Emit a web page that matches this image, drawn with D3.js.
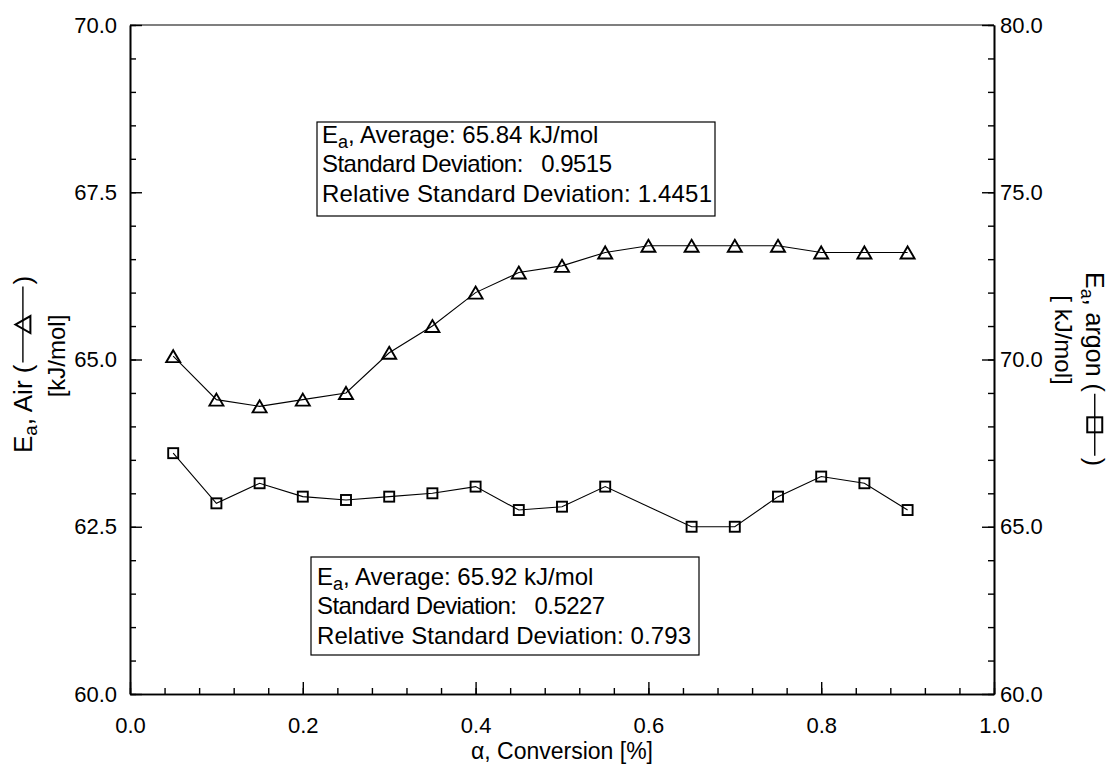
<!DOCTYPE html>
<html><head><meta charset="utf-8">
<script src="https://cdn.jsdelivr.net/npm/d3@7"></script>
<style>
body{margin:0;background:#fff}
text{font-family:"Liberation Sans",Arial,Helvetica,sans-serif;fill:#000}
</style>
</head><body>
<svg id="chart" width="1110" height="767"></svg>
<script>
// ---- data ----
const airConversion = [0.05,0.10,0.15,0.20,0.25,0.30,0.35,0.40,0.45,0.50,0.55,0.60,0.65,0.70,0.75,0.80,0.85,0.90];
const airEa = [65.05,64.4,64.3,64.4,64.5,65.1,65.5,66.0,66.3,66.4,66.6,66.7,66.7,66.7,66.7,66.6,66.6,66.6];
const argonConversion = [0.05,0.10,0.15,0.20,0.25,0.30,0.35,0.40,0.45,0.50,0.55,0.65,0.70,0.75,0.80,0.85,0.90];
const argonEa = [67.2,65.7,66.3,65.9,65.8,65.9,66.0,66.2,65.5,65.6,66.2,65.0,65.0,65.9,66.5,66.3,65.5];
const xTicks = [0.0,0.2,0.4,0.6,0.8,1.0];
const leftTicks = [60.0,62.5,65.0,67.5,70.0];
const rightTicks = [60.0,65.0,70.0,75.0,80.0];
const airStats = ["Average: 65.84 kJ/mol","Standard Deviation:   0.9515","Relative Standard Deviation: 1.4451"];
const argonStats = ["Average: 65.92 kJ/mol","Standard Deviation:   0.5227","Relative Standard Deviation: 0.793"];

const svg = d3.select("#chart");
const L = 130, R = 994, T = 25, B = 694;
const x = d3.scaleLinear().domain([0,1]).range([L,R]);
const yL = d3.scaleLinear().domain([60,70]).range([B,T]);
const yR = d3.scaleLinear().domain([60,80]).range([B,T]);
const f1 = d3.format(".1f");

function styleAxis(g, fs){
  g.selectAll("path.domain").attr("stroke","#000").attr("stroke-width",1.6);
  g.selectAll(".tick line").attr("stroke","#000").attr("stroke-width",1.4);
  g.selectAll("text").attr("font-size",fs).attr("fill","#000").attr("font-family",'"Liberation Sans",Arial,sans-serif');
}

// top frame line
svg.append("line").attr("x1",L).attr("x2",R).attr("y1",T).attr("y2",T).attr("stroke","#000").attr("stroke-width",1.2);

// bottom axis
const gxMinor = svg.append("g").attr("transform",`translate(0,${B})`)
  .call(d3.axisBottom(x).tickValues(d3.range(0,1.0001,0.04)).tickSizeInner(-6).tickSizeOuter(0).tickFormat(""));
styleAxis(gxMinor,22);
const gx = svg.append("g").attr("transform",`translate(0,${B})`)
  .call(d3.axisBottom(x).tickValues(xTicks).tickSizeInner(-12).tickSizeOuter(0).tickPadding(23).tickFormat(f1));
styleAxis(gx,22);

// left axis
const gyLm = svg.append("g").attr("transform",`translate(${L},0)`)
  .call(d3.axisLeft(yL).tickValues(d3.range(60,70.001,0.5)).tickSizeInner(-6).tickSizeOuter(0).tickFormat(""));
styleAxis(gyLm,22);
const gyL = svg.append("g").attr("transform",`translate(${L},0)`)
  .call(d3.axisLeft(yL).tickValues(leftTicks).tickSizeInner(-12).tickSizeOuter(0).tickPadding(13).tickFormat(f1));
styleAxis(gyL,22);

// right axis
const gyRm = svg.append("g").attr("transform",`translate(${R},0)`)
  .call(d3.axisRight(yR).tickValues(d3.range(60,80.001,1)).tickSizeInner(-6).tickSizeOuter(0).tickFormat(""));
styleAxis(gyRm,22);
const gyR = svg.append("g").attr("transform",`translate(${R},0)`)
  .call(d3.axisRight(yR).tickValues(rightTicks).tickSizeInner(-12).tickSizeOuter(0).tickPadding(6).tickFormat(f1));
styleAxis(gyR,22);

// series
const airData = airConversion.map((c,i)=>({c, v:airEa[i]}));
const argonData = argonConversion.map((c,i)=>({c, v:argonEa[i]}));

svg.append("path").datum(airData)
  .attr("d", d3.line().x(d=>x(d.c)).y(d=>yL(d.v)))
  .attr("fill","none").attr("stroke","#000").attr("stroke-width",1.1);
svg.append("path").datum(argonData)
  .attr("d", d3.line().x(d=>x(d.c)).y(d=>yR(d.v)))
  .attr("fill","none").attr("stroke","#000").attr("stroke-width",1.1);

const triPath = (w,h)=>`M0,${-h/2}L${w/2},${h/2}L${-w/2},${h/2}Z`;
svg.append("g").selectAll("path").data(airData).join("path")
  .attr("transform",d=>`translate(${x(d.c)},${yL(d.v)})`)
  .attr("d",triPath(14,12)).attr("fill","none").attr("stroke","#000").attr("stroke-width",1.9);
svg.append("g").selectAll("rect").data(argonData).join("rect")
  .attr("x",d=>x(d.c)-5).attr("y",d=>yR(d.v)-5).attr("width",10).attr("height",10)
  .attr("fill","none").attr("stroke","#000").attr("stroke-width",1.9);

// stats boxes
function statBox(bx,by,bw,bh,tx,ty,lines,lens){
  svg.append("rect").attr("x",bx).attr("y",by).attr("width",bw).attr("height",bh)
    .attr("fill","#fff").attr("stroke","#000").attr("stroke-width",1.2);
  lines.forEach((s,i)=>{
    const t = svg.append("text").attr("x",tx).attr("y",ty+i*29.3).attr("font-size",24)
      .style("white-space","pre");
    if(lens[i]) t.attr("textLength",lens[i]).attr("lengthAdjust","spacing");
    if(i===0){
      t.append("tspan").text("E");
      t.append("tspan").attr("font-size",18).attr("dy",5).text("a");
      t.append("tspan").attr("dy",-5).text(", "+s);
    } else t.text(s);
  });
}
statBox(317,122,398,94,322,143,airStats,[null,290,390]);
statBox(311,557,388,98,317,585,argonStats,[null,288,374]);

// x title
svg.append("text").attr("x",(L+R)/2).attr("y",759).attr("text-anchor","middle").attr("font-size",23)
  .text("α, Conversion [%]");

// rotated axis titles with a line+marker symbol
function sideTitle(bx, by, rot, label, fs, segL, symbol){
  const g = svg.append("g").attr("transform",`translate(${bx},${by}) rotate(${rot})`);
  const t1 = g.append("text").attr("x",0).attr("font-size",fs).style("white-space","pre");
  t1.append("tspan").text("E");
  t1.append("tspan").attr("font-size",fs*0.72).attr("dy",5).text("a");
  t1.append("tspan").attr("dy",-5).text(label);
  const w1 = t1.node().getComputedTextLength();
  const gap = 2;
  const sx = w1 + gap, sy = -fs*0.35;
  g.append("line").attr("x1",sx).attr("x2",sx+segL).attr("y1",sy).attr("y2",sy).attr("stroke","#000").attr("stroke-width",1.4);
  const mx = sx + segL/2;
  if(symbol==="tri"){
    g.append("path").attr("transform",`translate(${mx},${sy})`).attr("d",triPath(17,15))
      .attr("fill","none").attr("stroke","#000").attr("stroke-width",2);
  } else {
    g.append("rect").attr("x",mx-7.5).attr("y",sy-7.5).attr("width",15).attr("height",15)
      .attr("fill","none").attr("stroke","#000").attr("stroke-width",2);
  }
  g.append("text").attr("x",sx+segL+gap).attr("font-size",fs).text(")");
  return g;
}
// left: reads bottom-to-top, starting near y=453
sideTitle(32,453,-90,", Air (",26,76,"tri");
svg.append("text").attr("transform","translate(65,356) rotate(-90)").attr("text-anchor","middle").attr("font-size",24).text("[kJ/mol]");
// right: reads top-to-bottom, starting near y=272
sideTitle(1086,272,90,", argon (",25,62,"sq");
svg.append("text").attr("transform","translate(1055,340) rotate(90)").attr("text-anchor","middle").attr("font-size",24).style("white-space","pre").text("[ kJ/mol]");
</script>
</body></html>
